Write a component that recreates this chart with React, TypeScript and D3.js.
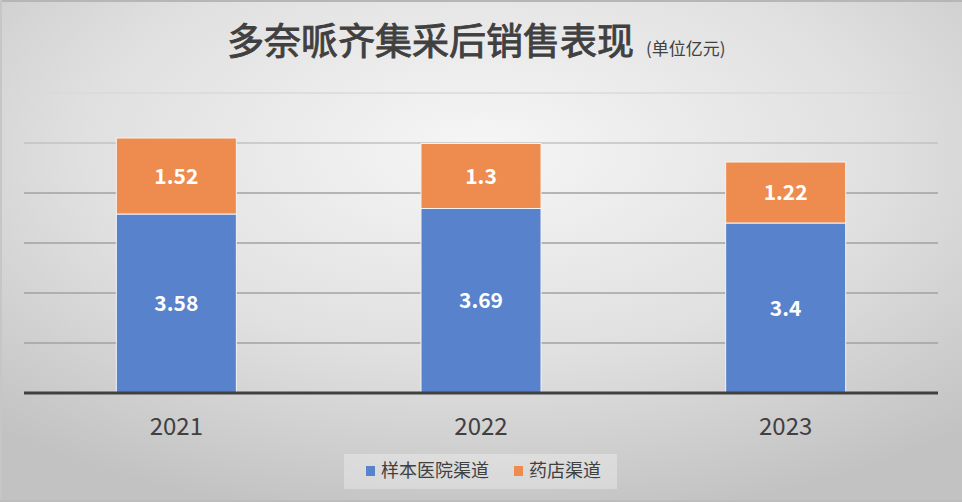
import { useEffect, useRef } from "react";
import * as d3 from "d3";

const years = ["2021", "2022", "2023"];
const hospital = [3.58, 3.69, 3.4];
const pharmacy = [1.52, 1.3, 1.22];
const seriesNames = ["样本医院渠道", "药店渠道"];
const yTicks = [0, 1, 2, 3, 4, 5, 6];

const App = () => {
  const svgRef = useRef<SVGSVGElement | null>(null);

  useEffect(() => {
    const width = 962;
    const height = 502;
    const plot = { left: 24, right: 938, top: 93, bottom: 393 };
    const font = "'Noto Sans CJK SC', 'Noto Sans', sans-serif";
    const textColor = "#404040";

    const svg = d3.select(svgRef.current).attr("width", width).attr("height", height);
    svg.selectAll("*").remove();

    // Background: soft radial grey
    const defs = svg.append("defs");
    const bg = defs
      .append("radialGradient")
      .attr("id", "bg")
      .attr("cx", "50%")
      .attr("cy", "30%")
      .attr("r", "75%");
    bg.append("stop").attr("offset", "0%").attr("stop-color", "#f6f6f6");
    bg.append("stop").attr("offset", "55%").attr("stop-color", "#e0e0e0");
    bg.append("stop").attr("offset", "100%").attr("stop-color", "#c2c2c2");

    svg.append("rect").attr("width", width).attr("height", height).attr("fill", "url(#bg)");
    svg.append("rect").attr("width", width).attr("height", 2).attr("fill", "#b6b6b6");
    svg.append("rect").attr("width", 2).attr("height", height).attr("fill", "#c6c6c6");
    svg.append("rect").attr("y", height - 2).attr("width", width).attr("height", 2).attr("fill", "#bdbdbd");

    // Scales
    const x = d3
      .scaleBand()
      .domain(years)
      .range([plot.left, plot.right])
      .paddingInner(0.606)
      .paddingOuter(0.303);

    const y = d3.scaleLinear().domain([0, 6]).range([plot.bottom, plot.top]);

    // gridlines fade out towards the top
    const gridColor = d3
      .scaleLinear<string>()
      .domain([6, 5, 4])
      .range(["#dadada", "#c2c2c2", "#a2a2a2"])
      .clamp(true);

    svg
      .append("g")
      .selectAll("line")
      .data(yTicks.filter((t) => t > 0))
      .join("line")
      .attr("x1", plot.left)
      .attr("x2", plot.right)
      .attr("y1", (d) => y(d))
      .attr("y2", (d) => y(d))
      .attr("stroke", (d) => gridColor(d))
      .attr("stroke-width", 1.5);

    // Stacked bars
    const rows = years.map((yr, i) => ({ year: yr, hospital: hospital[i], pharmacy: pharmacy[i] }));
    const stack = d3.stack<any>().keys(["hospital", "pharmacy"])(rows);
    const colors = ["#5882cb", "#ee8c4f"];

    const layers = svg
      .append("g")
      .selectAll("g")
      .data(stack)
      .join("g")
      .attr("fill", (_, i) => colors[i]);

    layers
      .selectAll("rect")
      .data((d) => d)
      .join("rect")
      .attr("x", (d) => x(d.data.year) as number)
      .attr("width", x.bandwidth())
      .attr("y", (d) => y(d[1]))
      .attr("height", (d) => y(d[0]) - y(d[1]))
      .attr("stroke", "#f4f4f4")
      .attr("stroke-width", 1);

    layers
      .selectAll("text")
      .data((d) => d.map((p) => ({ p, key: d.key })))
      .join("text")
      .attr("x", (d) => (x(d.p.data.year) as number) + x.bandwidth() / 2)
      .attr("y", (d) => (y(d.p[0]) + y(d.p[1])) / 2)
      .attr("dy", "0.36em")
      .attr("text-anchor", "middle")
      .attr("fill", "#ffffff")
      .attr("font-family", font)
      .attr("font-weight", 700)
      .attr("font-size", 21)
      .text((d) => String(d.p.data[d.key]));

    // Axis line
    svg
      .append("line")
      .attr("x1", plot.left)
      .attr("x2", plot.right)
      .attr("y1", y(0))
      .attr("y2", y(0))
      .attr("stroke", "#404040")
      .attr("stroke-width", 3);

    // Category labels
    svg
      .append("g")
      .selectAll("text")
      .data(years)
      .join("text")
      .attr("x", (d) => (x(d) as number) + x.bandwidth() / 2)
      .attr("y", 435)
      .attr("text-anchor", "middle")
      .attr("fill", textColor)
      .attr("font-family", font)
      .attr("font-size", 24)
      .text((d) => d);

    // Title (regular weight thickened a little with a stroke)
    const title = svg
      .append("text")
      .attr("x", 227)
      .attr("y", 55)
      .attr("fill", textColor)
      .attr("font-family", font);
    title
      .append("tspan")
      .attr("font-size", 37)
      .attr("stroke", textColor)
      .attr("stroke-width", 0.9)
      .text("多奈哌齐集采后销售表现");
    title.append("tspan").attr("font-size", 17).attr("dx", 12).text("(单位亿元)");

    // Legend
    const legend = svg.append("g");
    legend
      .append("rect")
      .attr("x", 344)
      .attr("y", 454)
      .attr("width", 273)
      .attr("height", 35)
      .attr("fill", "#ffffff")
      .attr("fill-opacity", 0.3);

    const legendX = [366, 514];
    const item = legend
      .selectAll("g")
      .data(seriesNames)
      .join("g")
      .attr("transform", (_, i) => `translate(${legendX[i]}, 471)`);
    item
      .append("rect")
      .attr("y", -5)
      .attr("width", 9)
      .attr("height", 10)
      .attr("fill", (_, i) => colors[i]);
    item
      .append("text")
      .attr("x", 15)
      .attr("dy", "0.36em")
      .attr("fill", textColor)
      .attr("font-family", font)
      .attr("font-size", 18)
      .text((d) => d);
  }, []);

  return <svg ref={svgRef} style={{ position: "absolute", left: 0, top: 0 }} />;
};

export default App;
